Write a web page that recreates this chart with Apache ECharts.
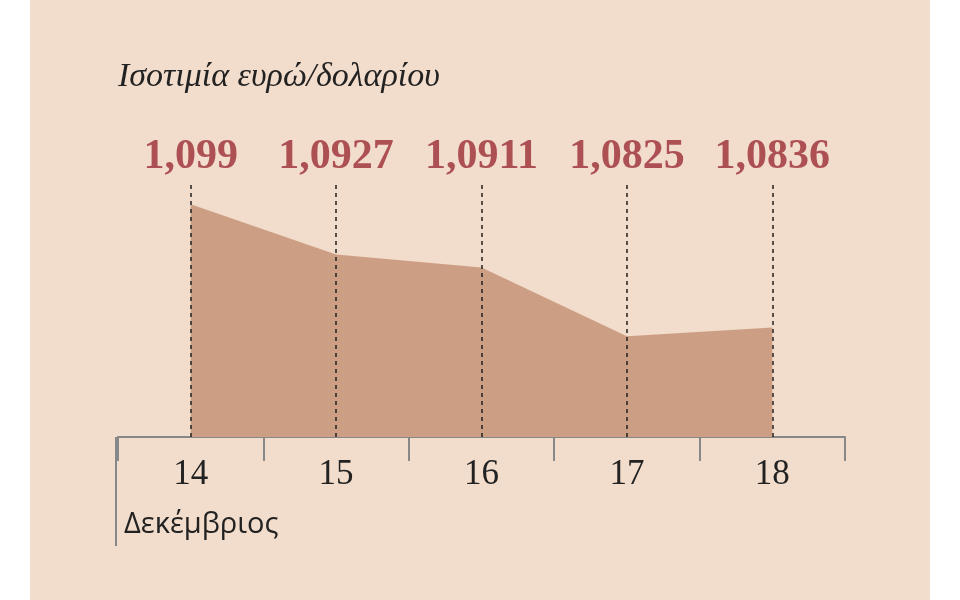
<!DOCTYPE html>
<html><head><meta charset="utf-8">
<script src="https://cdn.jsdelivr.net/npm/echarts@6/dist/echarts.min.js"></script>
<style>html,body{margin:0;background:#fff}#c{width:960px;height:600px}</style>
</head><body><div id="c"></div>
<script>
const categories = ['14','15','16','17','18'];
const values = [1.099, 1.0927, 1.0911, 1.0825, 1.0836];
const valueLabels = ['1,099','1,0927','1,0911','1,0825','1,0836'];
const yMin = 1.0699, yMax = 1.1014;
const chart = echarts.init(document.getElementById('c'));
chart.setOption({
  animation:false,
  graphic:[
    {type:'rect',shape:{x:30,y:0,width:900,height:600},style:{fill:'#f2dccb'},z:-10},
    {type:'text',left:118,top:60,style:{text:'Ισοτιμία ευρώ/δολαρίου',font:'italic 34px "Liberation Serif"',fill:'#222'}},
    {type:'line',shape:{x1:116,y1:437,x2:116,y2:546},style:{stroke:'#888',lineWidth:2}},
    {type:'text',left:124,top:510,style:{text:'Δεκέμβριος',font:'29px "Open Sans"',fill:'#222'}}
  ],
  grid:{left:118,right:115,top:185,bottom:163},
  xAxis:{type:'category',data:categories,boundaryGap:true,
    axisLine:{lineStyle:{color:'#888',width:2}},
    axisTick:{show:true,length:24,lineStyle:{color:'#888',width:2}},
    axisLabel:{margin:20,fontSize:35,fontFamily:'Liberation Serif',color:'#222'}},
  yAxis:{type:'value',min:yMin,max:yMax,show:false,splitLine:{show:false}},
  series:[
    {type:'line',data:values,symbol:'none',lineStyle:{width:0},areaStyle:{color:'#cc9f84',opacity:1},
     markLine:{symbol:'none',silent:true,label:{show:false},
       lineStyle:{type:[4,4],color:'#222',width:1.5},
       data:categories.map(c=>({xAxis:c}))}},
    {type:'scatter',data:values.map(()=>yMax),symbolSize:2,itemStyle:{color:'rgba(0,0,0,0)'},
     label:{show:true,position:'top',distance:6,formatter:p=>valueLabels[p.dataIndex],
       fontFamily:'Liberation Serif',fontWeight:'bold',fontSize:42,color:'#9b2d35'}}
  ]
});
</script></body></html>
